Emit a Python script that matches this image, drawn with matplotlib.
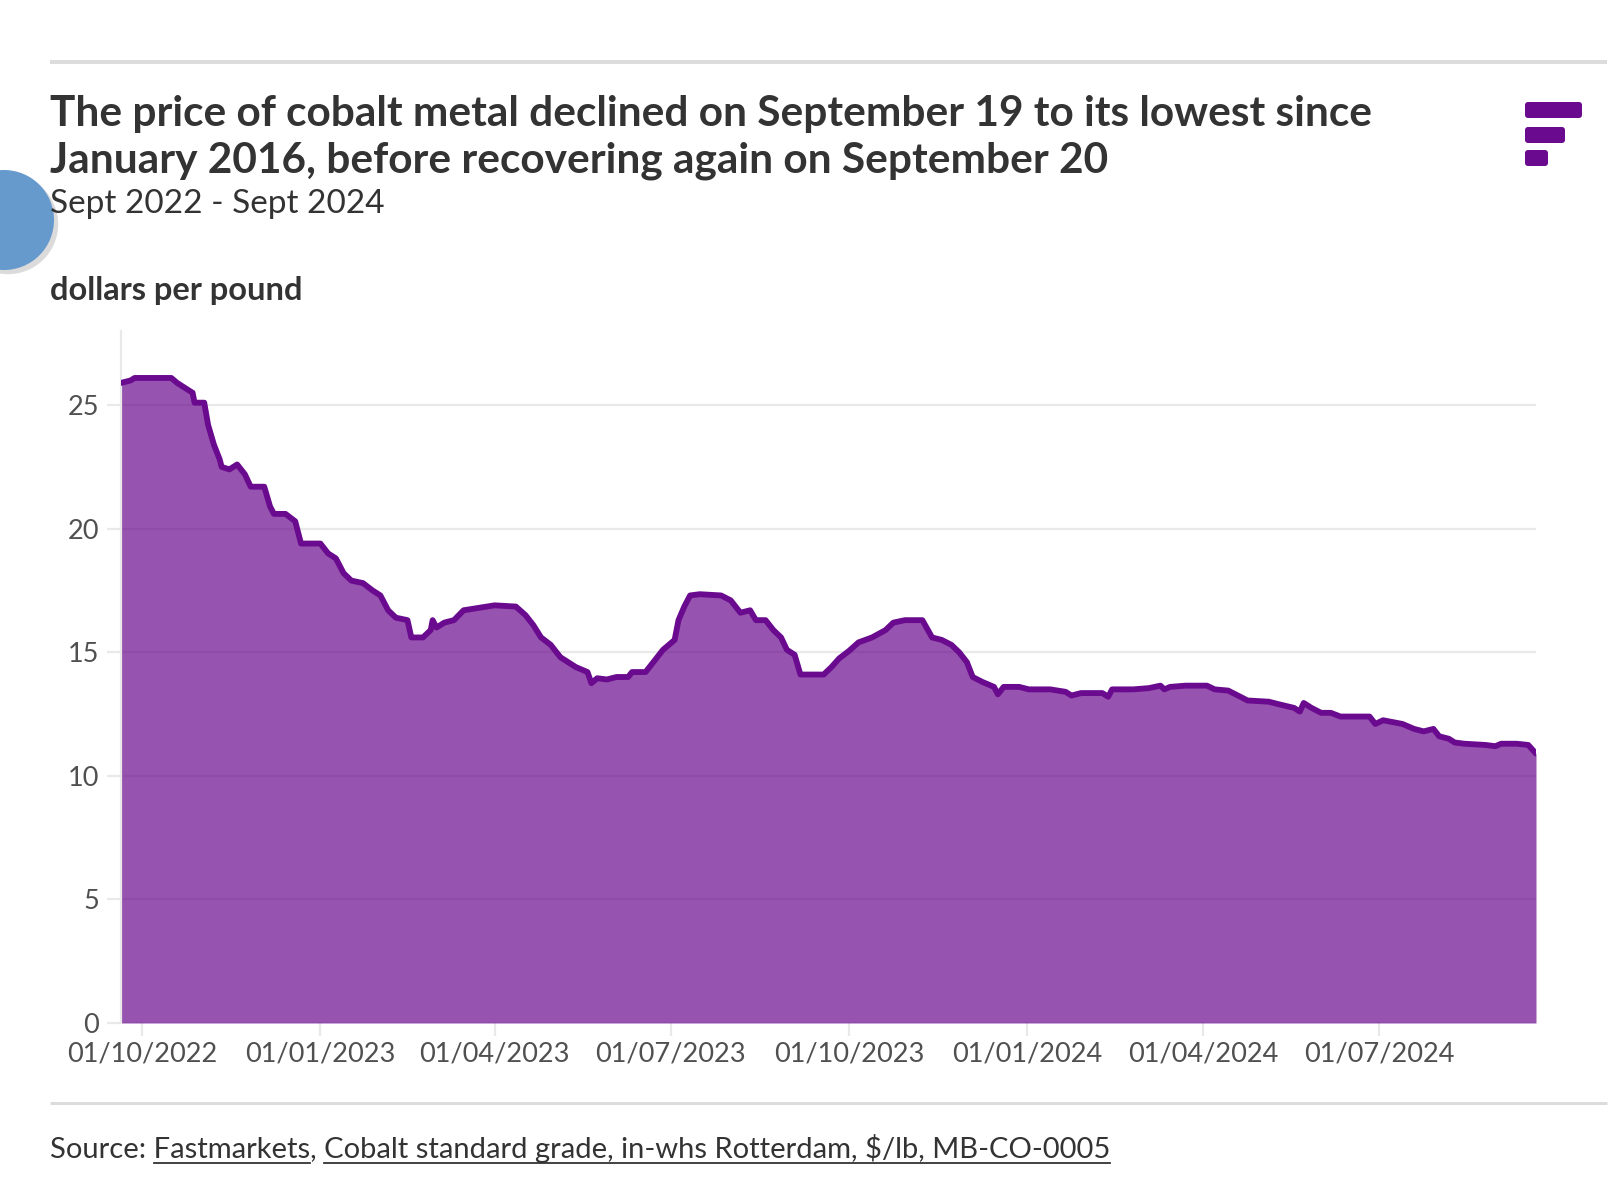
import numpy as np
import pandas as pd
import matplotlib
matplotlib.use("Agg")   # no display
import matplotlib.pyplot as plt
import matplotlib.dates as mdates
import matplotlib.patheffects as pe
from matplotlib.patches import Circle, FancyBboxPatch

# ---- data ------------------------------------------------------------
dates = [
    "2022-09-20", "2022-09-25", "2022-09-27", "2022-10-16", "2022-10-19", "2022-10-23",
    "2022-10-27", "2022-10-28", "2022-11-02", "2022-11-04", "2022-11-07", "2022-11-10",
    "2022-11-11", "2022-11-15", "2022-11-19", "2022-11-23", "2022-11-26", "2022-12-03",
    "2022-12-06", "2022-12-08", "2022-12-14", "2022-12-19", "2022-12-22", "2023-01-01",
    "2023-01-05", "2023-01-09", "2023-01-13", "2023-01-17", "2023-01-23", "2023-01-28",
    "2023-02-01", "2023-02-05", "2023-02-09", "2023-02-15", "2023-02-17", "2023-02-23",
    "2023-02-27", "2023-02-28", "2023-03-02", "2023-03-06", "2023-03-11", "2023-03-16",
    "2023-03-24", "2023-04-01", "2023-04-12", "2023-04-17", "2023-04-21", "2023-04-25",
    "2023-04-30", "2023-05-05", "2023-05-13", "2023-05-19", "2023-05-21", "2023-05-24",
    "2023-05-29", "2023-06-03", "2023-06-09", "2023-06-11", "2023-06-18", "2023-06-22",
    "2023-06-27", "2023-07-03", "2023-07-05", "2023-07-08", "2023-07-11", "2023-07-16",
    "2023-07-27", "2023-08-01", "2023-08-06", "2023-08-11", "2023-08-14", "2023-08-19",
    "2023-08-23", "2023-08-27", "2023-08-30", "2023-09-03", "2023-09-06", "2023-09-18",
    "2023-09-22", "2023-09-26", "2023-10-01", "2023-10-06", "2023-10-13", "2023-10-20",
    "2023-10-24", "2023-10-30", "2023-11-08", "2023-11-13", "2023-11-18", "2023-11-23",
    "2023-11-27", "2023-12-01", "2023-12-04", "2023-12-09", "2023-12-15", "2023-12-17",
    "2023-12-20", "2023-12-28", "2024-01-02", "2024-01-13", "2024-01-21", "2024-01-24",
    "2024-01-29", "2024-02-09", "2024-02-12", "2024-02-14", "2024-02-25", "2024-03-04",
    "2024-03-10", "2024-03-12", "2024-03-15", "2024-03-23", "2024-04-03", "2024-04-07",
    "2024-04-14", "2024-04-19", "2024-04-24", "2024-05-05", "2024-05-10", "2024-05-18",
    "2024-05-21", "2024-05-23", "2024-05-27", "2024-06-01", "2024-06-06", "2024-06-11",
    "2024-06-26", "2024-06-29", "2024-07-03", "2024-07-13", "2024-07-19", "2024-07-24",
    "2024-07-29", "2024-08-01", "2024-08-06", "2024-08-09", "2024-08-14", "2024-08-25",
    "2024-08-30", "2024-09-02", "2024-09-10", "2024-09-16", "2024-09-20",
]
prices = [
    25.9, 26.0, 26.1, 26.1, 25.9, 25.7,
    25.5, 25.1, 25.1, 24.2, 23.4, 22.8,
    22.5, 22.4, 22.6, 22.2, 21.7, 21.7,
    20.9, 20.6, 20.6, 20.3, 19.4, 19.4,
    19.0, 18.8, 18.2, 17.9, 17.8, 17.5,
    17.3, 16.7, 16.4, 16.3, 15.6, 15.6,
    15.9, 16.3, 16.0, 16.2, 16.3, 16.7,
    16.8, 16.9, 16.85, 16.5, 16.1, 15.6,
    15.3, 14.8, 14.4, 14.2, 13.75, 13.95,
    13.9, 14.0, 14.0, 14.2, 14.2, 14.6,
    15.1, 15.5, 16.3, 16.85, 17.3, 17.35,
    17.3, 17.1, 16.6, 16.7, 16.3, 16.3,
    15.9, 15.6, 15.1, 14.9, 14.1, 14.1,
    14.4, 14.75, 15.05, 15.4, 15.6, 15.9,
    16.2, 16.3, 16.3, 15.6, 15.5, 15.3,
    15.0, 14.6, 14.0, 13.8, 13.6, 13.3,
    13.6, 13.6, 13.5, 13.5, 13.4, 13.25,
    13.35, 13.35, 13.2, 13.5, 13.5, 13.55,
    13.65, 13.5, 13.6, 13.65, 13.65, 13.5,
    13.45, 13.25, 13.05, 13.0, 12.9, 12.75,
    12.6, 12.95, 12.75, 12.55, 12.55, 12.4,
    12.4, 12.1, 12.25, 12.1, 11.9, 11.8,
    11.9, 11.6, 11.5, 11.35, 11.3, 11.25,
    11.2, 11.3, 11.3, 11.25, 10.9,
]

title_lines = [
    "The price of cobalt metal declined on September 19 to its lowest since",
    "January 2016, before recovering again on September 20",
]
subtitle = "Sept 2022 - Sept 2024"
unit_label = "dollars per pound"
y_ticks = [0, 5, 10, 15, 20, 25]
x_ticks = ["2022-10-01", "2023-01-01", "2023-04-01", "2023-07-01",
           "2023-10-01", "2024-01-01", "2024-04-01", "2024-07-01"]
source_prefix = "Source: "
source_links = ["Fastmarkets", "Cobalt standard grade, in-whs Rotterdam, $/lb, MB-CO-0005"]

PURPLE = "#6A0A8E"
GRID = "#e9e9e9"
RULE = "#dcdcdc"
DARK = "#333333"
MID = "#505050"
FONT = "Lato"
SRC_SIZE = 21

W, H = 1620, 1194
fig = plt.figure(figsize=(W / 100, H / 100), dpi=100)

# overlay in pixel coordinates (y downward) for the page furniture
bg = fig.add_axes([0, 0, 1, 1])
bg.set_xlim(0, W)
bg.set_ylim(H, 0)
bg.axis("off")

bg.plot([50, 1607], [62, 62], color=RULE, lw=2.9, solid_capstyle="butt")
bg.plot([50, 1607], [1103, 1103], color=RULE, lw=2.2, solid_capstyle="butt")

bg.text(50, 126, title_lines[0], fontsize=30.5, fontweight="bold", color=DARK,
        family=FONT, va="baseline")
bg.text(50, 173, title_lines[1], fontsize=30.5, fontweight="bold", color=DARK,
        family=FONT, va="baseline")
bg.text(50, 213, subtitle, fontsize=24, color=DARK, family=FONT, va="baseline")
bg.text(50, 300, unit_label, fontsize=23.5, fontweight="bold", color=DARK,
        family=FONT, va="baseline")

# logo
for x0, w, y0 in [(1525, 57, 102), (1525, 40, 127), (1525, 23, 150)]:
    bg.add_patch(FancyBboxPatch((x0, y0), w, 16,
                                boxstyle="round,pad=0,rounding_size=3",
                                fc=PURPLE, ec="none"))

# blue circle on the left edge
circ = Circle((4, 220), 50, fc="#6699CC", ec="none",
              path_effects=[pe.SimplePatchShadow(offset=(3, -3), shadow_rgbFace="#888888",
                                                 alpha=0.3), pe.Normal()])
bg.add_patch(circ)

# source line with underlined links
src_y = 1158
full = source_prefix + source_links[0] + ", " + source_links[1]
bg.text(50, src_y, full, fontsize=SRC_SIZE, color=DARK, family=FONT, va="baseline")
renderer = fig.canvas.get_renderer()


def text_width(s):
    t = bg.text(0, 0, s, fontsize=SRC_SIZE, family=FONT)
    w = t.get_window_extent(renderer=renderer).width
    t.remove()
    return w


total_w = text_width(full)
end1 = text_width(source_prefix + source_links[0])
for start, end in [(end1 - text_width(source_links[0]), end1),
                   (total_w - text_width(source_links[1]), total_w)]:
    bg.plot([50 + start, 50 + end], [src_y + 5, src_y + 5], color=DARK, lw=1.3)

# ---- main chart ---------------------------------------------------------
ax = fig.add_axes([121 / W, 1 - 1023 / H, 1415 / W, 692 / H])
d = pd.to_datetime(dates)
ax.fill_between(d, prices, 0, color=PURPLE, alpha=0.7, lw=0, zorder=2)
ax.plot(d, prices, color=PURPLE, lw=4.2, zorder=3, solid_joinstyle="round",
        solid_capstyle="round")

ax.set_xlim(d[0], d[-1])
ax.set_ylim(0, 28)
ax.set_yticks(y_ticks)
ax.set_xticks(pd.to_datetime(x_ticks))
ax.xaxis.set_major_formatter(mdates.DateFormatter("%d/%m/%Y"))
ax.set_axisbelow(True)
ax.grid(axis="y", color=GRID, lw=1.6)
ax.grid(axis="x", visible=False)
ax.set_facecolor("none")

for side in ["top", "right", "bottom"]:
    ax.spines[side].set_visible(False)
ax.spines["left"].set_color(GRID)
ax.spines["left"].set_linewidth(1.6)

ax.tick_params(axis="y", length=10, width=1.6, color=GRID, pad=6,
               labelsize=19.5, labelcolor=MID)
ax.tick_params(axis="x", length=9, width=1.6, color=GRID, pad=4,
               labelsize=19.5, labelcolor=MID)
for lab in ax.get_xticklabels() + ax.get_yticklabels():
    lab.set_family(FONT)

fig.savefig("out.png", dpi=100)
